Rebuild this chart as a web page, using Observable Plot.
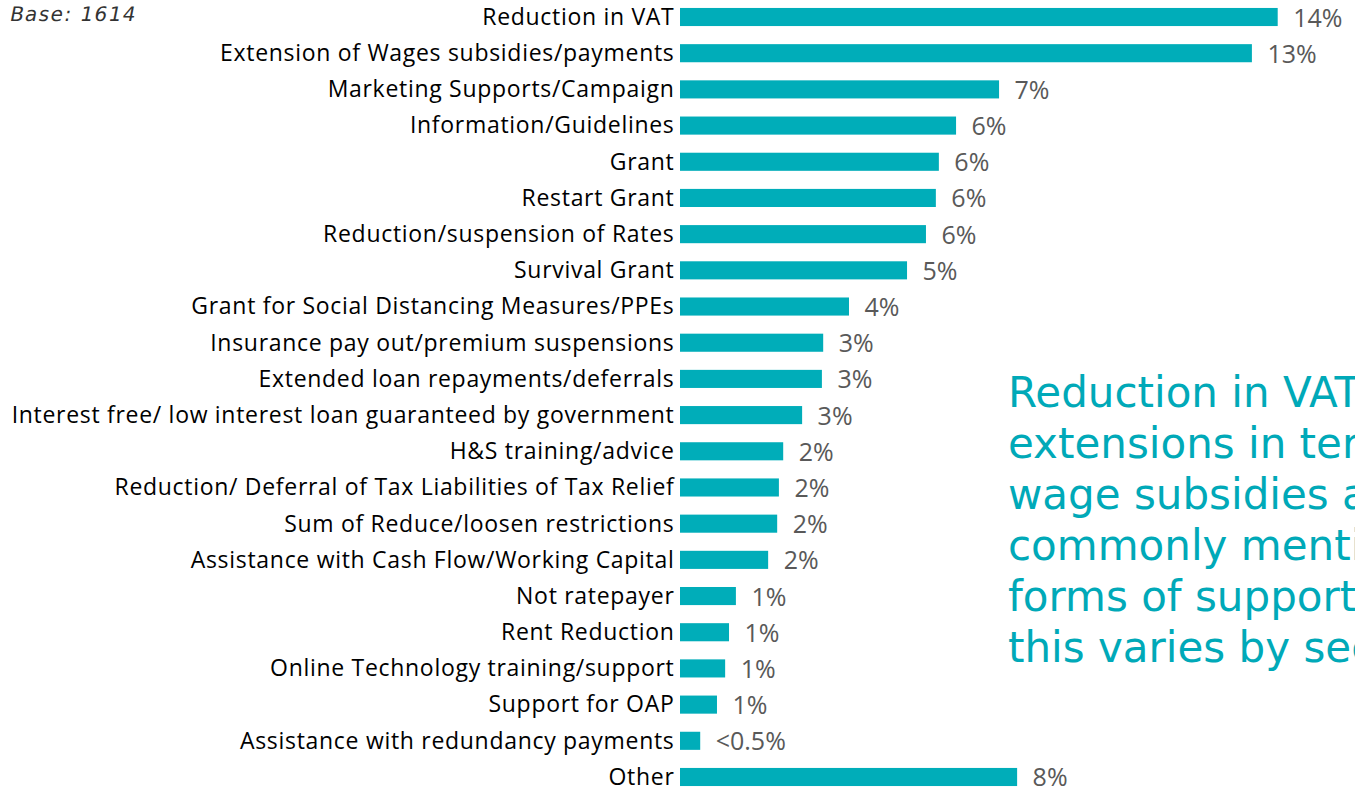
<!DOCTYPE html>
<html>
<head>
<meta charset="utf-8">
<script src="https://cdn.jsdelivr.net/npm/d3@7"></script>
<script src="https://cdn.jsdelivr.net/npm/@observablehq/plot@0.6"></script>
<style>
  html, body { margin: 0; padding: 0; background: #fff; overflow: hidden; }
  #wrap { position: relative; width: 1355px; height: 790px; overflow: hidden; }
  #base { position: absolute; left: 8px; top: 2px; font-family: "DejaVu Sans", sans-serif; font-style: normal; font-size: 20px; letter-spacing: 1.4px; color: #333; white-space: nowrap; transform: skewX(-11deg); transform-origin: left bottom; }
  #note { position: absolute; left: 1008px; top: 367px; font-family: "DejaVu Sans", sans-serif; font-size: 42px; line-height: 51px; color: #00A9B8; white-space: nowrap; }
  #chart g[aria-label="y-axis tick label"] text { letter-spacing: 0.7px; }
</style>
</head>
<body>
<div id="wrap">
  <div id="chart"></div>
  <div id="base">Base: 1614</div>
  <div id="note">Reduction in VAT and<br>extensions in terms of<br>wage subsidies are the most<br>commonly mentioned<br>forms of support, however<br>this varies by sector.</div>
</div>
<script>
const categories = [
  "Reduction in VAT",
  "Extension of Wages subsidies/payments",
  "Marketing Supports/Campaign",
  "Information/Guidelines",
  "Grant",
  "Restart Grant",
  "Reduction/suspension of Rates",
  "Survival Grant",
  "Grant for Social Distancing Measures/PPEs",
  "Insurance pay out/premium suspensions",
  "Extended loan repayments/deferrals",
  "Interest free/ low interest loan guaranteed by government",
  "H&S training/advice",
  "Reduction/ Deferral of Tax Liabilities of Tax Relief",
  "Sum of Reduce/loosen restrictions",
  "Assistance with Cash Flow/Working Capital",
  "Not ratepayer",
  "Rent Reduction",
  "Online Technology training/support",
  "Support for OAP",
  "Assistance with redundancy payments",
  "Other"
];
const values = [13.9, 13.3, 7.42, 6.42, 6.02, 5.95, 5.72, 5.28, 3.93, 3.33, 3.30, 2.84, 2.40, 2.30, 2.26, 2.05, 1.30, 1.14, 1.05, 0.86, 0.47, 7.84];
const valueLabels = ["14%", "13%", "7%", "6%", "6%", "6%", "6%", "5%", "4%", "3%", "3%", "3%", "2%", "2%", "2%", "2%", "1%", "1%", "1%", "1%", "<0.5%", "8%"];

const data = categories.map((c, i) => ({category: c, value: values[i], label: valueLabels[i]}));

const chart = Plot.plot({
  width: 1355,
  height: 790,
  marginLeft: 680,
  marginRight: 30,
  marginTop: 0,
  marginBottom: 0,
  style: {fontFamily: "'Open Sans', sans-serif", color: "#000", background: "#fff", overflow: "visible"},
  x: {domain: [0, 15], axis: null},
  y: {domain: categories, range: [0, 794], paddingInner: 0.5, paddingOuter: 0.22, round: false, axis: null},
  marks: [
    Plot.barX(data, {x: "value", y: "category", fill: "#00ADB9"}),
    Plot.axisY({tickSize: 0, tickPadding: 6, fontSize: 23, fill: "#000", label: null}),
    Plot.text(data, {x: "value", y: "category", text: "label", textAnchor: "start", dx: 15, dy: 1, fontSize: 25, fill: "#595959"})
  ]
});
document.getElementById("chart").appendChild(chart);
</script>
</body>
</html>
